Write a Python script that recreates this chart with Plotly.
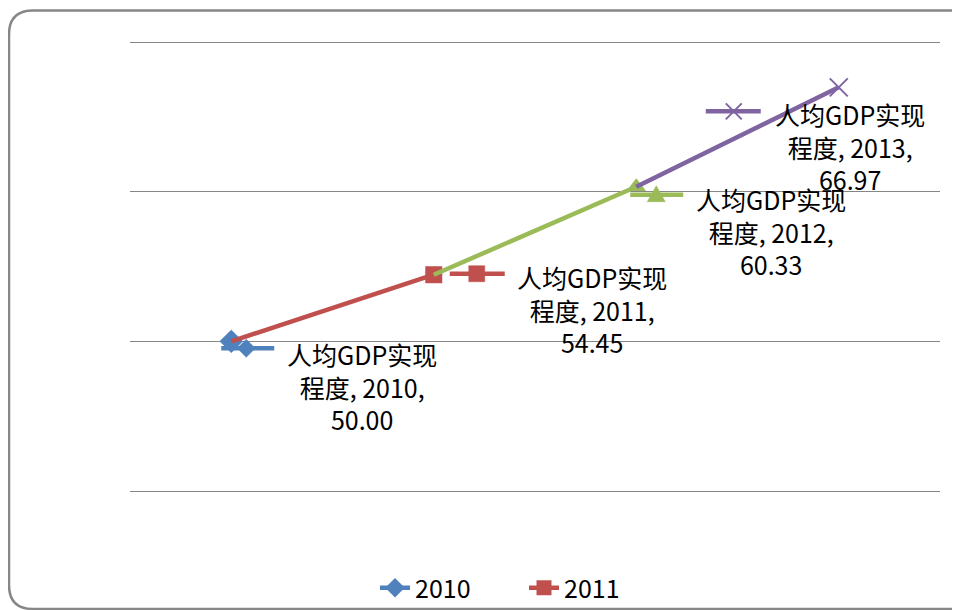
import plotly.graph_objects as go

years = ["2010", "2011", "2012", "2013"]
values = [50.00, 54.45, 60.33, 66.97]
series_colors = ["#4F81BD", "#C0504D", "#9BBB59", "#8064A2"]
series_symbols = ["diamond", "square", "triangle-up", "x-thin"]
legend_years = ["2010", "2011"]
y_ticks = [40, 50, 60, 70]

FONT = "Noto Sans CJK SC, Lato, sans-serif"
OFF = 8  # page body margin
EXT = 3  # px of padding so edge gridlines are drawn
PL, PR, PT, PB = 130 - OFF, 20, 42 - OFF - EXT, 119 - EXT
W, H = 960 - OFF, 610 - OFF
PX_PER_UNIT = 449 / 30.0
pad = EXT / PX_PER_UNIT

fig = go.Figure()

marker_sizes = [18, 17, 17, 18]
for i, yr in enumerate(years):
    lo = max(0, i - 1)
    xs = years[lo:i + 1]
    ys = values[lo:i + 1]
    sizes = [0] * (len(xs) - 1) + [marker_sizes[i]]
    sym = series_symbols[i]
    mk = dict(symbol=sym, size=sizes, color=series_colors[i], opacity=1,
              line=dict(color=series_colors[i], width=2 if sym == "x-thin" else 0))
    fig.add_trace(go.Scatter(
        x=xs, y=ys, mode="lines+markers", name=yr, showlegend=False,
        line=dict(color=series_colors[i], width=4.5), marker=mk,
        hoverinfo="skip"))

# legend-only traces
for i, yr in enumerate(years):
    if yr in legend_years:
        fig.add_trace(go.Scatter(
            x=[None], y=[None], mode="lines+markers", name=yr,
            line=dict(color=series_colors[i], width=4.5),
            marker=dict(symbol=series_symbols[i], size=15, color=series_colors[i], opacity=1)))

# label positions (pixel offsets from each point): key line x0,x1, key y, marker dx ; text shift
key_off = [(-10, 43, -7, 15), (16, 71, 1, 43), (-6, 47, -8, 20), (-133, -78, -24, -105)]
text_off = [(131, -45), (158, -35), (135, -45), (11, -59)]


def marker_path(sym, cx, cy):
    if sym == "diamond":
        r = 9
        return f"M {cx},{cy+r} L {cx+r},{cy} L {cx},{cy-r} L {cx-r},{cy} Z"
    if sym == "square":
        r = 8
        return f"M {cx-r},{cy-r} L {cx+r},{cy-r} L {cx+r},{cy+r} L {cx-r},{cy+r} Z"
    if sym == "triangle-up":
        return f"M {cx-9},{cy-7} L {cx+9},{cy-7} L {cx},{cy+9} Z"
    r = 8
    return f"M {cx-r},{cy-r} L {cx+r},{cy+r} M {cx-r},{cy+r} L {cx+r},{cy-r}"


for i, yr in enumerate(years):
    x0, x1, dy, mdx = key_off[i]
    col = series_colors[i]
    fig.add_shape(type="line", xref="x", yref="y", xsizemode="pixel", ysizemode="pixel",
                  xanchor=i, yanchor=values[i], x0=x0, x1=x1, y0=dy, y1=dy,
                  line=dict(color=col, width=4.5), layer="above")
    sym = series_symbols[i]
    fill = col if sym != "x-thin" else "rgba(0,0,0,0)"
    fig.add_shape(type="path", xref="x", yref="y", xsizemode="pixel", ysizemode="pixel",
                  xanchor=i, yanchor=values[i], path=marker_path(sym, mdx, dy),
                  fillcolor=fill, line=dict(color=col, width=2 if sym == "x-thin" else 0.5),
                  layer="above")
    tx, ty = text_off[i]
    fig.add_annotation(x=i, y=values[i], xref="x", yref="y", showarrow=False,
                       xshift=tx, yshift=ty, align="center",
                       text=f"人均GDP实现<br>程度, {yr},<br>{values[i]:.2f}",
                       font=dict(family=FONT, size=25, color="#000000"))

# rounded frame (pixel offsets from paper origin = bottom-left of plot area, page (130,494))
Y0 = 491 + EXT
L, R, T, B, rad = 9 - 130, 990 - 130, Y0 - 10.5, Y0 - 609, 24
frame = (f"M {L},{B+rad} L {L},{T-rad} Q {L},{T} {L+rad},{T} L {R-rad},{T} Q {R},{T} {R},{T-rad} "
         f"L {R},{B+rad} Q {R},{B} {R-rad},{B} L {L+rad},{B} Q {L},{B} {L},{B+rad} Z")
fig.add_shape(type="path", xref="paper", yref="paper", xsizemode="pixel", ysizemode="pixel",
              xanchor=0, yanchor=0, path=frame, line=dict(color="#878787", width=2.5),
              fillcolor="rgba(0,0,0,0)", layer="below")

plot_h = H - PT - PB
fig.update_layout(
    width=W, height=H, margin=dict(l=PL, r=PR, t=PT, b=PB, autoexpand=False),
    paper_bgcolor="white", plot_bgcolor="white",
    font=dict(family=FONT, size=24, color="#000000"),
    showlegend=True,
    legend=dict(orientation="h", x=(375 - 130) / 810, xanchor="left", y=-(588 - Y0) / plot_h,
                yanchor="middle", font=dict(family=FONT, size=25),
                entrywidth=104, entrywidthmode="pixels",
                bgcolor="rgba(0,0,0,0)"),
    xaxis=dict(type="category", categoryorder="array", categoryarray=years,
               range=[-0.5, 3.5], showgrid=False, showticklabels=False, zeroline=False,
               showline=False, ticks=""),
    yaxis=dict(range=[y_ticks[0] - pad, y_ticks[-1] + pad], tickvals=y_ticks, showgrid=True,
               gridcolor="#868686", gridwidth=1, showticklabels=False, zeroline=False,
               showline=False, ticks=""),
)

fig.write_html("out.html")
